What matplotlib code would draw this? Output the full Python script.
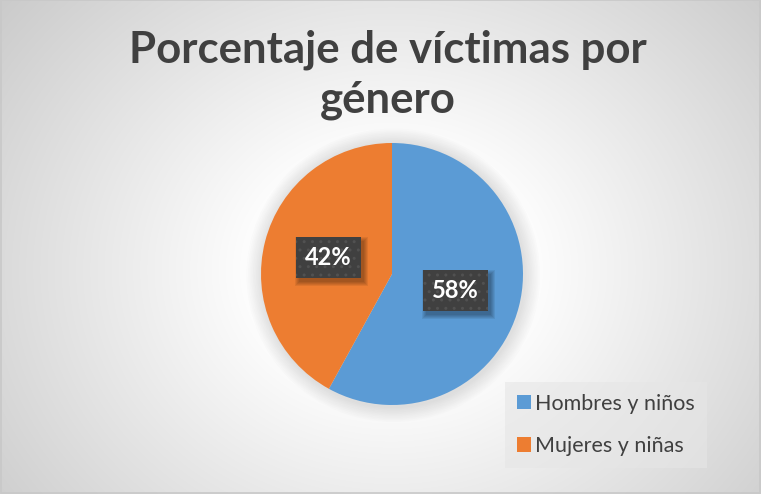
import numpy as np
import matplotlib.pyplot as plt

# data
labels = ['Hombres y niños', 'Mujeres y niñas']
values = [58, 42]
colors = ['#5B9BD5', '#ED7D31']
title_lines = ['Porcentaje de víctimas por', 'género']

plt.rcParams['font.family'] = ['Lato', 'DejaVu Sans']

W, H = 761, 494
fig = plt.figure(figsize=(W / 100, H / 100), dpi=100)

# radial gradient background
bg = fig.add_axes([0, 0, 1, 1], zorder=0)
yy, xx = np.mgrid[0:H, 0:W]
r = np.hypot((xx - 391) / 1.0, (yy - 270) / 0.85)
g = np.clip(1 - (r - 130) / 400 * 0.22, 0.78, 1.0)
bg.imshow(np.dstack([g, g, g]), extent=[0, W, H, 0], aspect='auto')
bg.set_xlim(0, W)
bg.set_ylim(H, 0)
bg.axis('off')
bg.add_patch(plt.Rectangle((0.5, 0.5), W - 1.5, H - 1.5, fill=False,
                           edgecolor='#c8c8c8', linewidth=1.2))

# title, one text per line
for i, line in enumerate(title_lines):
    fig.text(388 / W, 1 - (62 + 50 * i) / H, line, ha='center', va='baseline',
             fontsize=31.5, fontweight='bold', color='#404040')

# pie axes: center (392, 274), radius 131
R = 131
ax = fig.add_axes([(392 - R) / W, (H - 274 - R) / H, 2 * R / W, 2 * R / H], zorder=1)

# soft glow around the pie
for k in range(10):
    ax.add_patch(plt.Circle((0.01, -0.01), 1.0 + 0.012 * (10 - k), color='#7a7a7a',
                            alpha=0.018, linewidth=0, zorder=0, clip_on=False))

wedges, texts, autotexts = ax.pie(
    values, colors=colors, startangle=90, counterclock=False,
    autopct='%d%%', pctdistance=0.5, radius=1.0,
    wedgeprops=dict(linewidth=0))
ax.set_xlim(-1, 1)
ax.set_ylim(-1, 1)
ax.set_aspect('auto')

for t in autotexts:
    t.set_fontsize(17)
    t.set_fontweight('bold')
    t.set_color('white')
    t.set_zorder(5)
    t.set_bbox(dict(boxstyle='square,pad=0.38', facecolor='#404040',
                    edgecolor='#515151', linewidth=0, hatch='..'))

# blurred shadows under the label boxes, drawn in pixel coords of bg axes
fig.canvas.draw()
for t in autotexts:
    ext = t.get_bbox_patch().get_window_extent()
    x0, x1 = ext.x0, ext.x1
    y0, y1 = H - ext.y1, H - ext.y0
    for k in range(5):
        grow = 4 - k
        bg.add_patch(plt.Rectangle((x0 + 3 - grow, y0 + 4 - grow),
                                   (x1 - x0) + 2 * grow, (y1 - y0) + 2 * grow,
                                   facecolor='black', alpha=0.07, linewidth=0))
# shadows must sit above the pie, so move them to an overlay axes
ov = fig.add_axes([0, 0, 1, 1], zorder=2)
ov.set_xlim(0, W)
ov.set_ylim(H, 0)
ov.axis('off')
for p in list(bg.patches)[1:]:
    p.remove()
    ov.add_patch(p)
ax2 = fig.add_axes(ax.get_position(), zorder=3)
ax2.set_xlim(-1, 1)
ax2.set_ylim(-1, 1)
ax2.axis('off')
for t in autotexts:
    x, y = t.get_position()
    ax2.text(x, y, t.get_text(), ha='center', va='center', fontsize=17,
             fontweight='bold', color='white',
             bbox=dict(boxstyle='square,pad=0.38', facecolor='#404040',
                       edgecolor='#515151', linewidth=0, hatch='..'))
    t.remove()

# legend
leg = fig.legend(wedges, labels, loc='lower left',
                 bbox_to_anchor=(505 / W, (H - 468) / H),
                 frameon=True, fancybox=False, fontsize=15.5,
                 labelcolor='#404040', handlelength=0.65, handleheight=0.65,
                 handletextpad=0.2, labelspacing=1.05, borderpad=0.55,
                 borderaxespad=0)
leg.set_zorder(4)
leg.get_frame().set_facecolor('#e6e6e6')
leg.get_frame().set_alpha(0.6)
leg.get_frame().set_linewidth(0)

fig.savefig('out.png', dpi=100)
